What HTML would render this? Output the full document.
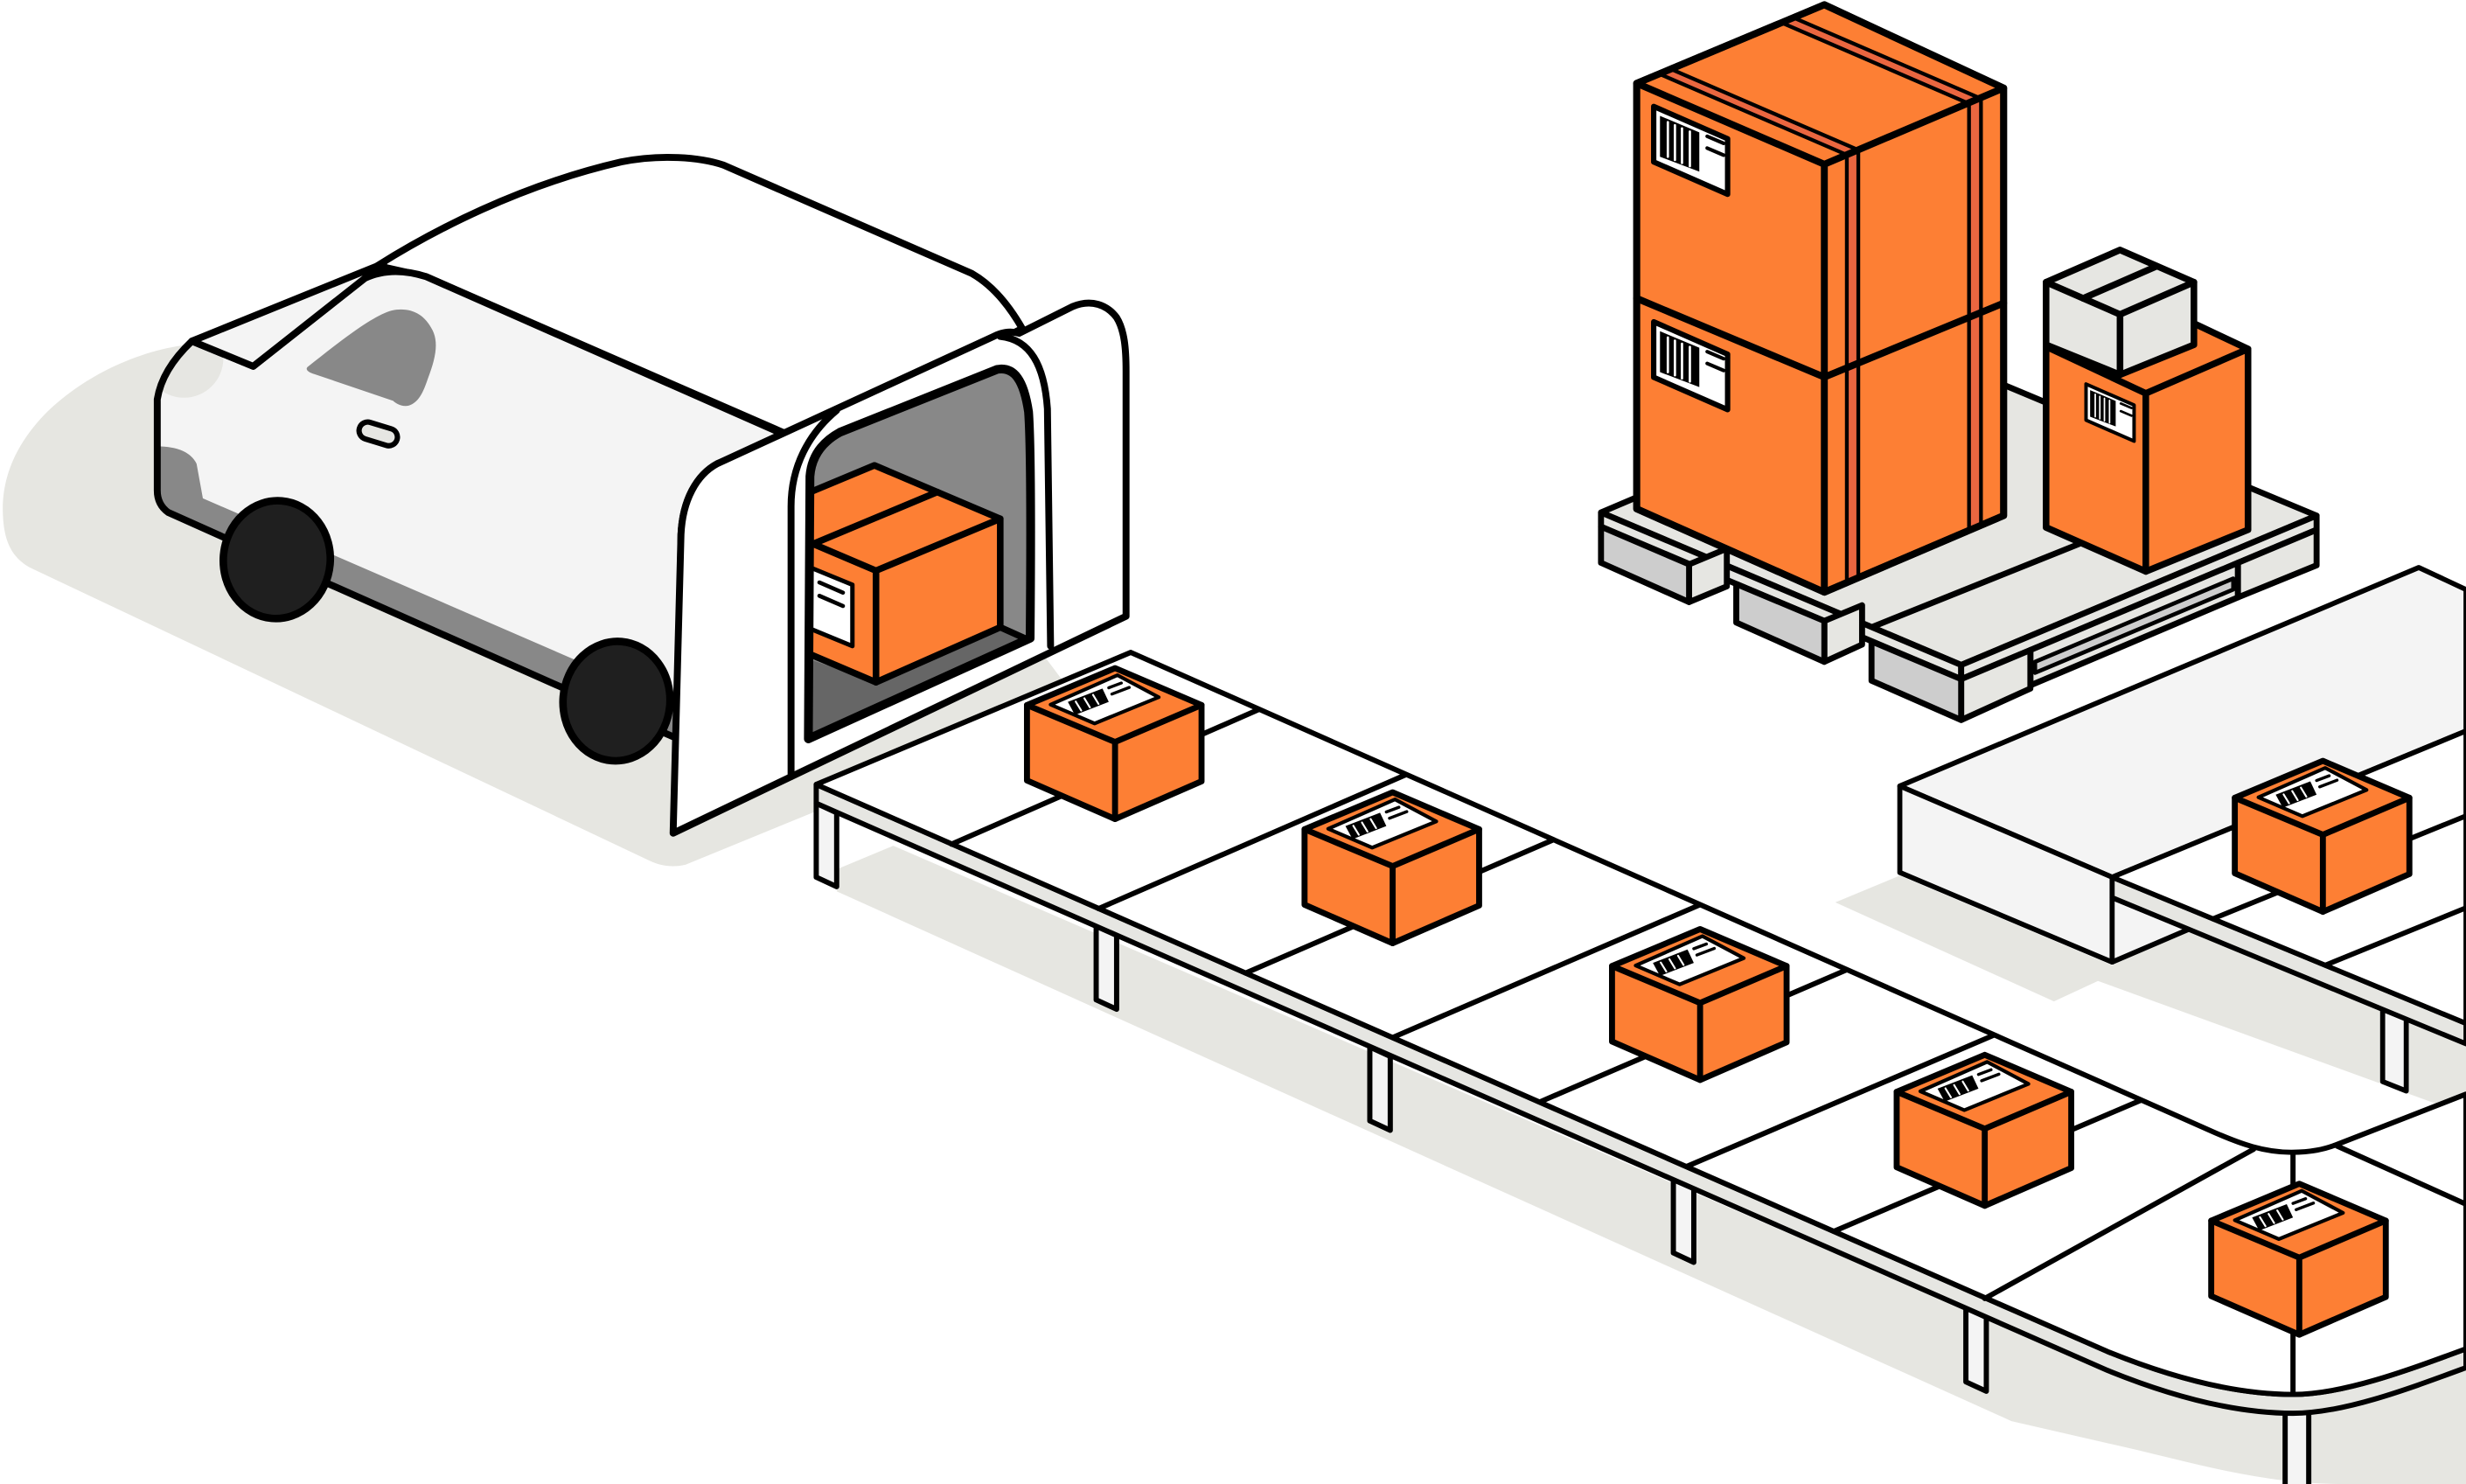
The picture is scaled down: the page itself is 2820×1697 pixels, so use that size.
<!DOCTYPE html>
<html>
<head>
<meta charset="utf-8">
<style>
html,body{margin:0;padding:0;background:#fff;overflow:hidden;}
svg{display:block;}
</style>
</head>
<body>
<svg xmlns="http://www.w3.org/2000/svg" width="2820" height="1697" viewBox="0 0 1568 944" preserveAspectRatio="none">
<defs>
  <clipPath id="bodyclip">
    <path d="M122,217 L161,233 L232,177 Q249,169 271,176 L500,277 L456,295 C443,302 434,318 433,340 L431,470 L145,343 L107,326 Q100,321 100,312 L100,254 Q103,235 122,217 Z"/>
  </clipPath>
  <clipPath id="openclip">
    <path d="M514,470 L515,303 C516,290 523,281 534,275 L634,235 C645,233 651,242 654,262 Q656,290 655,406 Z"/>
  </clipPath>
  <g id="pk" stroke="#000" stroke-width="3.8" stroke-linejoin="round" stroke-linecap="round">
    <path d="M0,0 L55,23.5 L55,72 L0,96 L-56,71.5 L-56,23.5 Z" fill="#fd7f34"/>
    <path d="M-56,23.5 L0,47 L55,23.5 M0,47 L0,96" fill="none"/>
    <path d="M-41,23.2 L1.5,4.5 L27.8,18.5 L-13,35.2 Z" fill="#fff" stroke-width="2.3"/>
    <path d="M-30,21.5 L-8,13 L-4,21.5 L-25.5,29.8 Z" fill="#000" stroke="none"/>
    <path d="M-25,21.3 L-21.5,27 M-19.5,19.2 L-16,25 M-14,17 L-10.5,22.8" stroke="#fff" stroke-width="1.2" fill="none"/>
    <path d="M-4,12.5 L4,9.5 M-2,16.5 L9,12.3" stroke-width="1.9" fill="none"/>
  </g>
  <g id="lb" stroke="#000" stroke-linejoin="round">
    <path d="M0,0 L47,20.6 L47,55.9 L0,35.3 Z" fill="#fff" stroke-width="3.4"/>
    <path d="M4,6 L29,16.5 L29,41.5 L4,32 Z" fill="#000" stroke="none"/>
    <path d="M9,10 L9,32 M13.5,12 L13.5,34 M18,14 L18,36 M23,16 L23,38" stroke="#fff" stroke-width="1.5" fill="none"/>
    <path d="M34,19 L44.5,23.5 M34,26.5 L44.5,31" stroke-width="2.3" fill="none"/>
  </g>
</defs>

<rect x="0" y="0" width="1568" height="944" fill="#fff"/>

<g stroke="#000" stroke-width="3.3" stroke-linejoin="round" stroke-linecap="round">

<!-- ===== SHADOWS ===== -->
<g stroke="none" fill="#e6e6e1">
  <path d="M122,219 C90,222 55,238 30,262 C10,282 0,305 2,330 C3,345 8,355 19,361 L412,547 C420,551 428,552 436,550 L519,516 L519,500 L675,432 L660,412 L400,300 Z"/>
  <path d="M532,553 L568,538 L1279,846 L1340,872 C1380,888 1420,899 1458,899 C1490,899 1530,884 1568,870 L1568,944 L1490,944 C1440,944 1400,932 1353,921 L1279,904 L532,567 Z"/>
  <path d="M1167,574 L1208,557 L1343,614 L1392,592 L1568,665 L1568,709 L1334,624 L1306,637 Z"/>
</g>

<!-- ===== PALLET ===== -->
<g stroke-width="3.8">
<path d="M1018,326 L1241,231 L1473,328 L1247,423 Z" fill="#e6e6e2"/>
<path d="M1190,399 L1322,346" fill="none"/>
<path d="M1018,326 L1247,423 L1247,432 L1018,335 Z" fill="#e6e6e2"/>
<path d="M1247,423 L1473,328 L1473,337 L1247,432 Z" fill="#e6e6e2"/>
<path d="M1074,359 L1098,349 L1098,373 L1074,383 Z" fill="#e6e6e2"/>
<path d="M1018,335 L1074,359 L1074,383 L1018,358 Z" fill="#cdcdcd"/>
<path d="M1160,395 L1184,385 L1184,410 L1160,421 Z" fill="#e6e6e2"/>
<path d="M1104,371.5 L1160,395 L1160,421 L1104,396 Z" fill="#cdcdcd"/>
<path d="M1291,413.5 L1423,358 L1423,380 L1291,436 Z" fill="#e6e6e2"/>
<path d="M1294,421 L1420,368 L1420,375 L1294,428 Z" fill="#cdcdcd" stroke-width="2.6"/>
<path d="M1423,358 L1473,337 L1473,359.6 L1423,380 Z" fill="#e6e6e2"/>
<path d="M1247,432 L1291,413.5 L1291,438 L1247,458 Z" fill="#e6e6e2"/>
<path d="M1190,408 L1247,432 L1247,458 L1190,433 Z" fill="#cdcdcd"/>
</g>

<!-- ===== BIG STACK ===== -->
<g stroke-width="4.4">
<path d="M1040.7,53 L1160,3 L1274,56 L1274,328 L1160,376.7 L1040.7,323.7 Z" fill="#fd7f34"/>
<g stroke-width="2.4" fill="#ea6640">
  <path d="M1055,47 L1062.3,43.9 L1181.6,95.4 L1174.3,98.5 Z"/>
  <path d="M1174.3,98.5 L1181.6,95.4 L1181.6,367.5 L1174.3,370.6 Z"/>
  <path d="M1132.7,14.4 L1140.3,11.2 L1259.6,62.7 L1252,65.9 Z"/>
  <path d="M1252,65.9 L1259.6,62.7 L1259.6,334.2 L1252,337.4 Z"/>
</g>
<path d="M1040.7,53 L1160,104.5 L1274,56 M1160,104.5 L1160,376.7 M1040.7,189.8 L1160,239.9 L1274,192.8" fill="none"/>
<path d="M1040.7,53 L1160,3 L1274,56 L1274,328 L1160,376.7 L1040.7,323.7 Z" fill="none"/>
</g>
<use href="#lb" x="1051.5" y="67.7"/>
<use href="#lb" x="1051.5" y="204.7"/>

<!-- ===== SMALL STACK ===== -->
<g stroke-width="4.2">
<path d="M1301,220.5 L1366,192 L1429.4,222 L1429.4,337 L1364.4,363.5 L1301,335.5 Z" fill="#fd7f34"/>
<path d="M1301,220.5 L1364.4,250.2 L1429.4,222 M1364.4,250.2 L1364.4,363.5" fill="none"/>
</g>
<use href="#lb" transform="translate(1326.4,244.3) scale(0.65)"/>
<g stroke-width="4.2">
<path d="M1301,179.5 L1348,159 L1395,179.5 L1395,219.3 L1348,238.4 L1301,219.3 Z" fill="#e6e6e2"/>
<path d="M1301,179.5 L1348,200 L1395,179.5 M1348,200 L1348,238.4 M1324.5,189.8 L1371.5,169.3" fill="none"/>
</g>

<!-- ===== RIGHT PLATFORM / BELT ===== -->
<g stroke-width="3.2">
<path d="M1515,642 L1515,688 L1530,694 L1530,648 Z" fill="#f4f4f4"/>
<path d="M1208,500 L1538,361 L1568,375 L1568,465 L1343,558 Z" fill="#f4f4f4"/>
<path d="M1208,500 L1343,558 L1343,612 L1208,555 Z" fill="#f4f4f4"/>
<path d="M1343,571 L1343,612 L1392,591 Z" fill="#f4f4f4"/>
<path d="M1343,558 L1568,651 L1568,664 L1343,571 Z" fill="#e6e6e2"/>
<path d="M1343,558 L1568,465 L1568,651 Z" fill="#fff"/>
<path d="M1407,584.5 L1568,519 M1478.5,614 L1568,577.5" fill="none"/>
</g>

<!-- ===== MAIN CONVEYOR ===== -->
<g fill="#f4f4f4">
  <path d="M519,511 L519,558 L532,564 L532,517 Z"/>
  <path d="M697,589 L697,636 L710,642 L710,595 Z"/>
  <path d="M871,666 L871,713 L884,719 L884,672 Z"/>
  <path d="M1064,750 L1064,797 L1077,803 L1077,756 Z"/>
  <path d="M1250,832 L1250,879 L1263,885 L1263,838 Z"/>
  <path d="M1453,897 L1453,950 L1468,950 L1468,897 Z"/>
</g>
<path d="M519,499 L1279,833 L1340,859.7 C1380,876 1420,887 1458,887 C1490,887 1530,872 1568,858 L1568,870 C1530,884 1490,899 1458,899 C1420,899 1380,888 1340,871.7 L519,511 Z" fill="#e6e6e2"/>
<path d="M519,499 L719,415 L1405,719 C1425,728 1440,733 1457,733 C1470,733 1478,731 1486,728 L1568,696 L1568,858 C1530,872 1490,887 1458,887 C1420,887 1380,876 1340,859.7 Z" fill="#fff"/>
<path d="M605,537 L800,451.5 M698.5,578 L893.5,493 M792,619 L987,534.5 M885.5,660 L1080.5,575.7 M979,701 L1174,617 M1072.5,742 L1267.5,658.6 M1166,783.3 L1361,700 M1262,826 L1433,731 M1458,734 L1458,887 M1486,729 L1568,766" fill="none"/>

<!-- ===== VAN ===== -->
<g stroke-width="4.4">
<path d="M240,169 C275,147 330,118 395,103 C420,98 445,100 460,105 L618,174 C632,182 642,195 650,209 L640,214 L500,276 L271,176 Z" fill="#fff"/>
<path d="M122,217 L161,233 L232,177 Q249,169 271,176 L500,277 L456,295 C443,302 434,318 433,340 L431,470 L145,343 L107,326 Q100,321 100,312 L100,254 Q103,235 122,217 Z" fill="#f4f4f4" stroke="none"/>
<g clip-path="url(#bodyclip)" stroke="none">
  <path d="M96,284 Q119,283 125,295 L129,317 L440,452 L440,480 L96,330 Z" fill="#888"/>
  <circle cx="117" cy="228" r="25" fill="#e6e6e2"/>
</g>
<path d="M122,217 L161,233 L232,177 Q249,169 271,176 L500,277 L456,295 C443,302 434,318 433,340 L431,470 L145,343 L107,326 Q100,321 100,312 L100,254 Q103,235 122,217 Z" fill="none"/>
<path d="M195.5,233.5 C215,218 240,198 252,197 C262,196 270,200 275,210 C279,218 277,228 272,241 C269,250 266,256 260,258 C256,259 252,257 250,255 L200,238 C196,237 194,235 195.5,233.5 Z" fill="#888" stroke="none"/>
<rect x="-12.5" y="-5.5" width="25" height="11" rx="5.5" transform="translate(240.5,276) rotate(17)" fill="#e6e6e2" stroke-width="3.4"/>
<path d="M122,217 L244,167.5 L232,177 L161,233 Z" fill="#f4f4f4"/>
<ellipse cx="176" cy="356" rx="34" ry="37.5" transform="rotate(5 176 356)" fill="#1f1f1f" stroke-width="4.8"/>
<ellipse cx="392" cy="446" rx="34" ry="38" transform="rotate(5 392 446)" fill="#1f1f1f" stroke-width="4.8"/>
<path d="M428,530 L433,340 C434,318 443,302 456,295 L634,213 Q641,210 648,212 L682,195 C694,190 704,194 710,202 C715,210 716,222 716,236 L716,392 Z" fill="#fff"/>
<path d="M503,494 L503,322 C503,297 514,276 532,261 M636,214 C655,216 664,232 666,260 L668,411" fill="none"/>
<path d="M514,470 L515,303 C516,290 523,281 534,275 L634,235 C645,233 651,242 654,262 Q656,290 655,406 Z" fill="#888" stroke="none"/>
<g clip-path="url(#openclip)" stroke-width="4.2">
  <path d="M505,416 L557,434 L636,399 L665,412 L665,490 L505,490 Z" fill="#666" stroke="none"/>
  <path d="M636,399 L656,408" fill="none"/>
  <path d="M556,296 L636,330 L636,399 L557,434 L477,400 L477,329 Z" fill="#fd7f34"/>
  <path d="M477,329 L557,363 L636,330 M557,363 L557,434 M517,346 L596,313" fill="none"/>
  <path d="M508,358 L542,372 L542,411 L508,397 Z" fill="#fff" stroke-width="2.8"/>
  <path d="M521,370.5 L536,377 M521,379 L536,385.5" fill="none" stroke-width="2.6"/>
</g>
<path d="M514,470 L515,303 C516,290 523,281 534,275 L634,235 C645,233 651,242 654,262 Q656,290 655,406 Z" fill="none" stroke-width="5.6"/>
</g>

<!-- ===== BOXES ===== -->
<use href="#pk" x="709" y="425"/>
<use href="#pk" x="885.5" y="504"/>
<use href="#pk" x="1081" y="591"/>
<use href="#pk" x="1262" y="671"/>
<use href="#pk" x="1462" y="753"/>
<use href="#pk" x="1477" y="484"/>

</g>
</svg>
</body>
</html>
